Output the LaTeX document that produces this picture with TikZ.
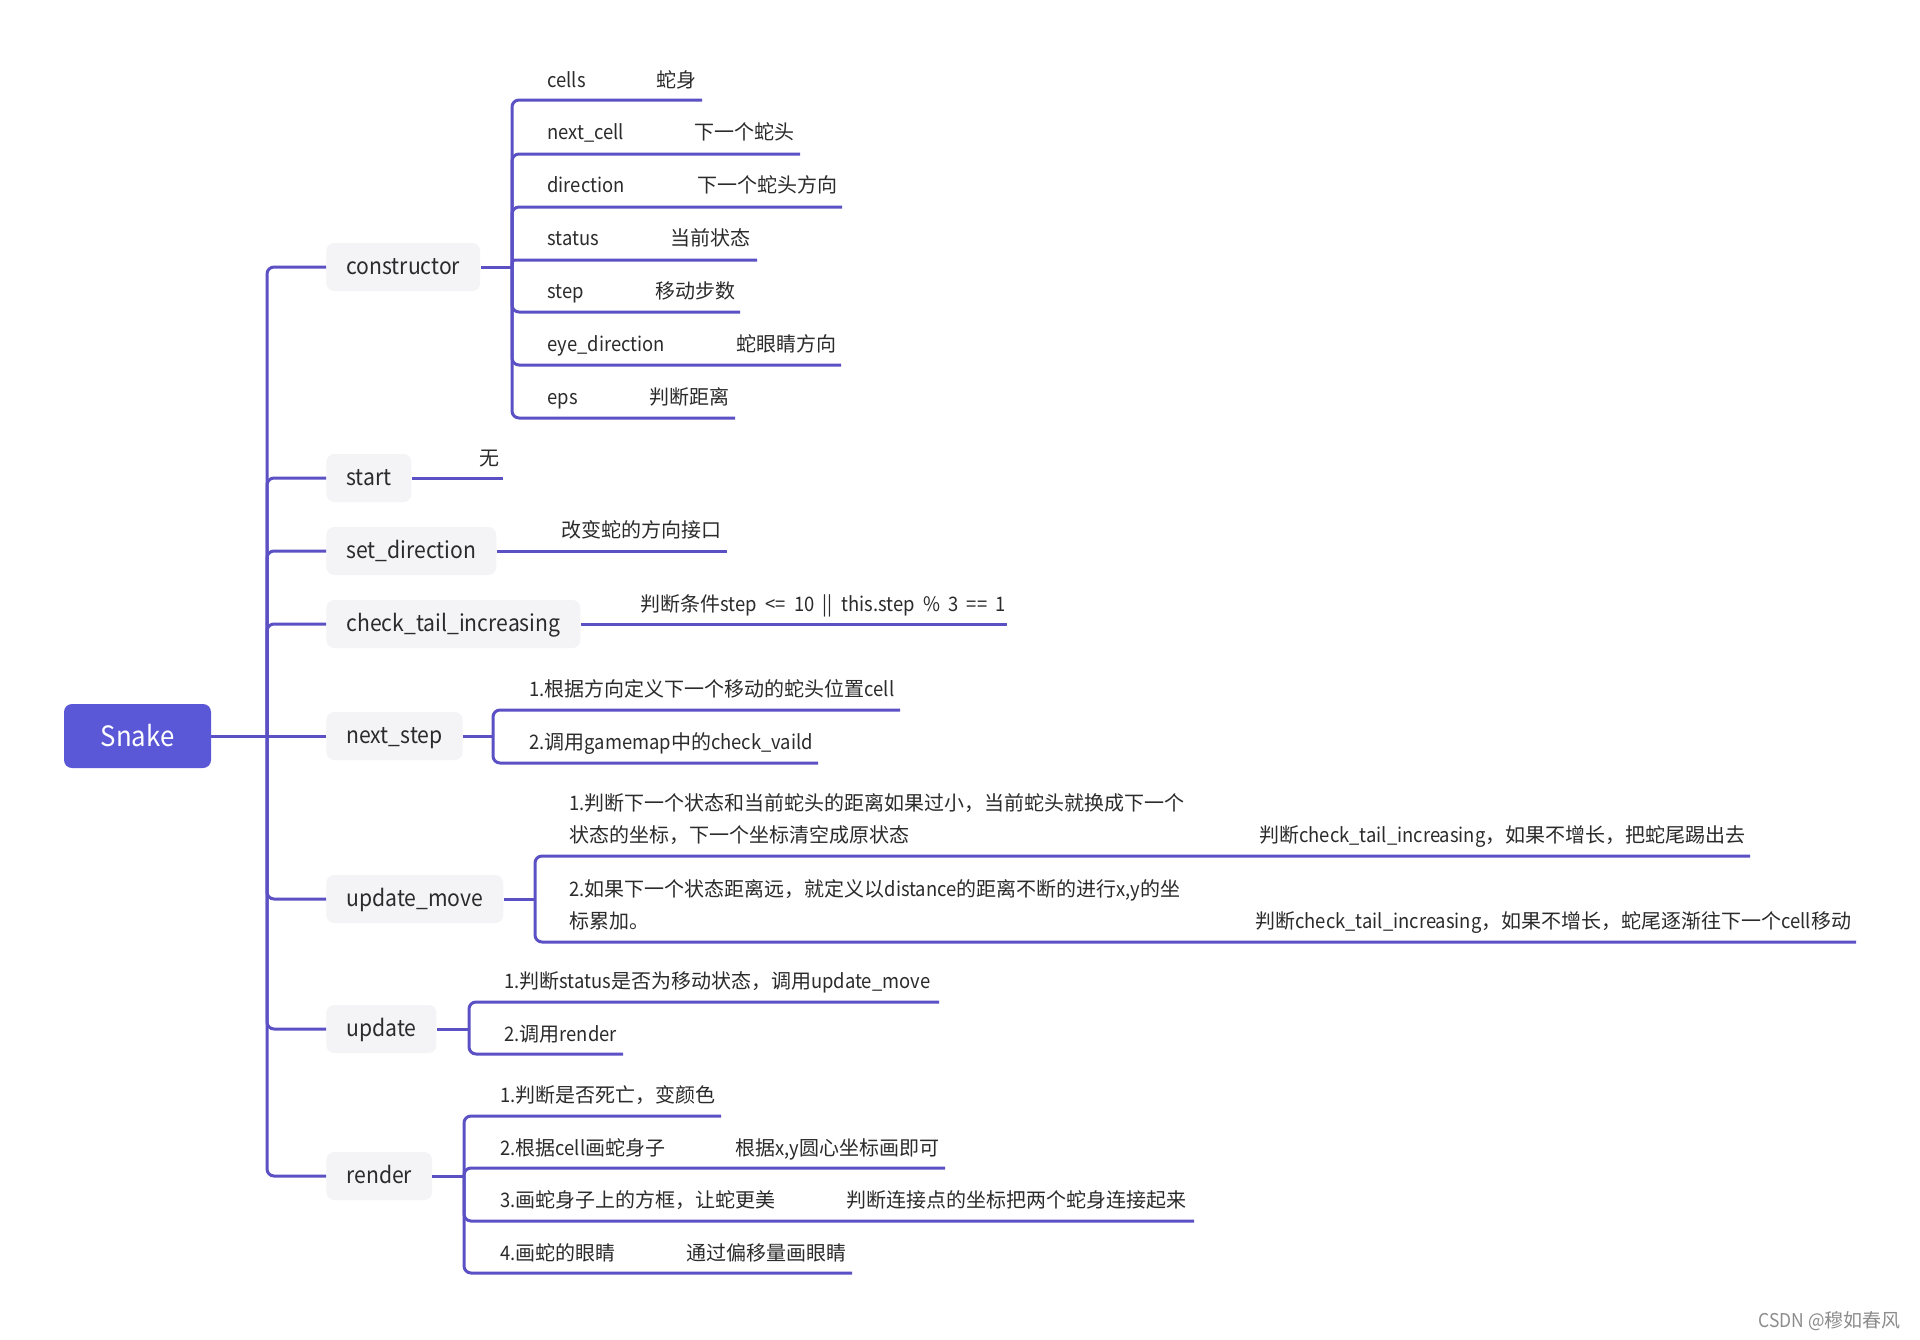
\documentclass[tikz,border=0pt]{standalone}
\usepackage{fontspec}
\setmainfont{Noto Sans CJK SC}[FakeStretch=0.92]
\newfontfamily\cjkf{Noto Sans CJK SC}
% automatic switch: Latin (narrowed) <-> CJK (normal width)
\newXeTeXintercharclass\mycjkclass
\newcount\mycc
\mycc="4E00 \loop\XeTeXcharclass\mycc=\mycjkclass\advance\mycc by 1 \ifnum\mycc<"A000 \repeat
\mycc="3000 \loop\XeTeXcharclass\mycc=\mycjkclass\advance\mycc by 1 \ifnum\mycc<"3040 \repeat
\mycc="FF00 \loop\XeTeXcharclass\mycc=\mycjkclass\advance\mycc by 1 \ifnum\mycc<"FFF0 \repeat
\XeTeXinterchartoks 0 \mycjkclass = {\cjkf}
\XeTeXinterchartoks 4095 \mycjkclass = {\cjkf}
\XeTeXinterchartoks \mycjkclass 0 = {\rmfamily}
\XeTeXinterchartoks 4095 0 = {\rmfamily}
\XeTeXinterchartokenstate=1
\definecolor{lc}{HTML}{5B50C4}
\definecolor{snakefill}{HTML}{5A58D6}
\definecolor{boxfill}{HTML}{F4F4F6}
\definecolor{txt}{HTML}{2B2B2B}
\tikzset{
  conn/.style={draw=lc, line width=1.5pt, rounded corners=3.5pt},
  rootbox/.style={fill=snakefill, rounded corners=4pt, minimum width=73.5pt, minimum height=32pt, text=white, font=\fontsize{14}{16}\selectfont},
  lone/.style={fill=boxfill, rounded corners=4pt, inner xsep=10pt, minimum height=24pt, text height=9.2pt, text depth=2pt, font=\fontsize{11.5}{14}\selectfont, text=txt, anchor=west},
  ltwo/.style={anchor=base west, inner sep=0pt, font=\fontsize{10}{12}\selectfont, text=txt},
  wmark/.style={anchor=west, inner sep=0pt, font=\fontsize{9.5}{11}\selectfont, text=black!45}
}
\begin{document}
\begin{tikzpicture}[x=0.5pt,y=-0.5pt]
\useasboundingbox (0,0) rectangle (1920,1339);
\fill[white] (0,0) rectangle (1920,1339);

% root
\node[rootbox] (snake) at (137.5,736) {Snake};
\coordinate (tr) at (267,736);

% level 1
\node[lone] (constructor) at (326,267) {constructor};
\node[lone] (start) at (326,478) {start};
\node[lone] (setdir) at (326,551) {set\_direction};
\node[lone] (checktail) at (326,624) {check\_tail\_increasing};
\node[lone] (nextstep) at (326,736) {next\_step};
\node[lone] (updatemove) at (326,899) {update\_move};
\node[lone] (update) at (326,1029) {update};
\node[lone] (render) at (326,1176) {render};

\draw[conn] (snake.east) -- (nextstep.west);
\foreach \n in {constructor,start,setdir,checktail,updatemove,update,render}
  \draw[conn] (tr) |- (\n.west);

% constructor children
\coordinate (cs) at (512,267);
\draw[conn] (constructor.east) -- (cs);
\node[ltwo] (k1) at (547,87) {cells};        \node[ltwo] (v1) at (656,87) {蛇身};
\node[ltwo] (k2) at (547,139) {next\_cell};  \node[ltwo] (v2) at (694,139) {下一个蛇头};
\node[ltwo] (k3) at (547,192) {direction};   \node[ltwo] (v3) at (697,192) {下一个蛇头方向};
\node[ltwo] (k4) at (547,245) {status};      \node[ltwo] (v4) at (670,245) {当前状态};
\node[ltwo] (k5) at (547,298) {step};        \node[ltwo] (v5) at (655,298) {移动步数};
\node[ltwo] (k6) at (547,351) {eye\_direction}; \node[ltwo] (v6) at (736,351) {蛇眼睛方向};
\node[ltwo] (k7) at (547,404) {eps};         \node[ltwo] (v7) at (649,404) {判断距离};
\coordinate (e1) at (702,100);
\coordinate (e2) at (800,154);
\coordinate (e3) at (842,207);
\coordinate (e4) at (757,260);
\coordinate (e5) at (740,312);
\coordinate (e6) at (841,365);
\coordinate (e7) at (735,418);
\foreach \e in {e1,e2,e3,e5,e6,e7}
  \draw[conn] (cs) |- (\e);
\draw[conn, rounded corners=1.5pt] (cs) |- (e4);

% start
\node[ltwo] (wu) at (479,465) {无};
\coordinate (se) at (503,478);
\draw[conn] (start.east) -- (se);

% set_direction
\node[ltwo] (sdt) at (561,537) {改变蛇的方向接口};
\coordinate (sde) at (727,551);
\draw[conn] (setdir.east) -- (sde);

% check_tail_increasing
\node[ltwo] (ctt) at (640,611) {\spaceskip=4.2pt 判断条件step <= 10 || this.step \% 3 == 1};
\coordinate (cte) at (1007,624);
\draw[conn] (checktail.east) -- (cte);

% next_step
\coordinate (ns) at (493,736);
\draw[conn] (nextstep.east) -- (ns);
\node[ltwo] (n1) at (529,696) {1.根据方向定义下一个移动的蛇头位置cell};
\node[ltwo] (n2) at (529,749) {2.调用gamemap中的check\_vaild};
\coordinate (ne1) at (900,710);
\coordinate (ne2) at (818,763);
\draw[conn] (ns) |- (ne1);
\draw[conn] (ns) |- (ne2);

% update_move
\coordinate (um) at (535,899);
\draw[conn] (updatemove.east) -- (um);
\node[ltwo] (u1a) at (569,810) {1.判断下一个状态和当前蛇头的距离如果过小，当前蛇头就换成下一个};
\node[ltwo] (u1b) at (569,842) {状态的坐标，下一个坐标清空成原状态};
\node[ltwo] (u1c) at (1259,842) {判断check\_tail\_increasing，如果不增长，把蛇尾踢出去};
\node[ltwo] (u2a) at (569,896) {2.如果下一个状态距离远，就定义以distance的距离不断的进行x,y的坐};
\node[ltwo] (u2b) at (569,928) {标累加。};
\node[ltwo] (u2c) at (1255,928) {判断check\_tail\_increasing，如果不增长，蛇尾逐渐往下一个cell移动};
\coordinate (ue1) at (1750,856);
\coordinate (ue2) at (1856,942);
\draw[conn] (um) |- (ue1);
\draw[conn] (um) |- (ue2);

% update
\coordinate (up) at (469,1029);
\draw[conn] (update.east) -- (up);
\node[ltwo] (p1) at (504,988) {1.判断status是否为移动状态，调用update\_move};
\node[ltwo] (p2) at (504,1041) {2.调用render};
\coordinate (pe1) at (939,1002);
\coordinate (pe2) at (623,1054);
\draw[conn] (up) |- (pe1);
\draw[conn] (up) |- (pe2);

% render
\coordinate (rs) at (464,1176);
\draw[conn] (render.east) -- (rs);
\node[ltwo] (r1) at (500,1102) {1.判断是否死亡，变颜色};
\node[ltwo] (r2) at (500,1155) {2.根据cell画蛇身子};
\node[ltwo] (r2b) at (735,1155) {根据x,y圆心坐标画即可};
\node[ltwo] (r3) at (500,1207) {3.画蛇身子上的方框，让蛇更美};
\node[ltwo] (r3b) at (846,1207) {判断连接点的坐标把两个蛇身连接起来};
\node[ltwo] (r4) at (500,1260) {4.画蛇的眼睛};
\node[ltwo] (r4b) at (686,1260) {通过偏移量画眼睛};
\coordinate (re1) at (721,1116);
\coordinate (re2) at (945,1168);
\coordinate (re3) at (1194,1221);
\coordinate (re4) at (852,1273);
\foreach \e in {re1,re2,re3,re4}
  \draw[conn] (rs) |- (\e);

% watermark
\node[wmark] (wm) at (1758,1321) {CSDN @穆如春风};
\end{tikzpicture}
\end{document}
